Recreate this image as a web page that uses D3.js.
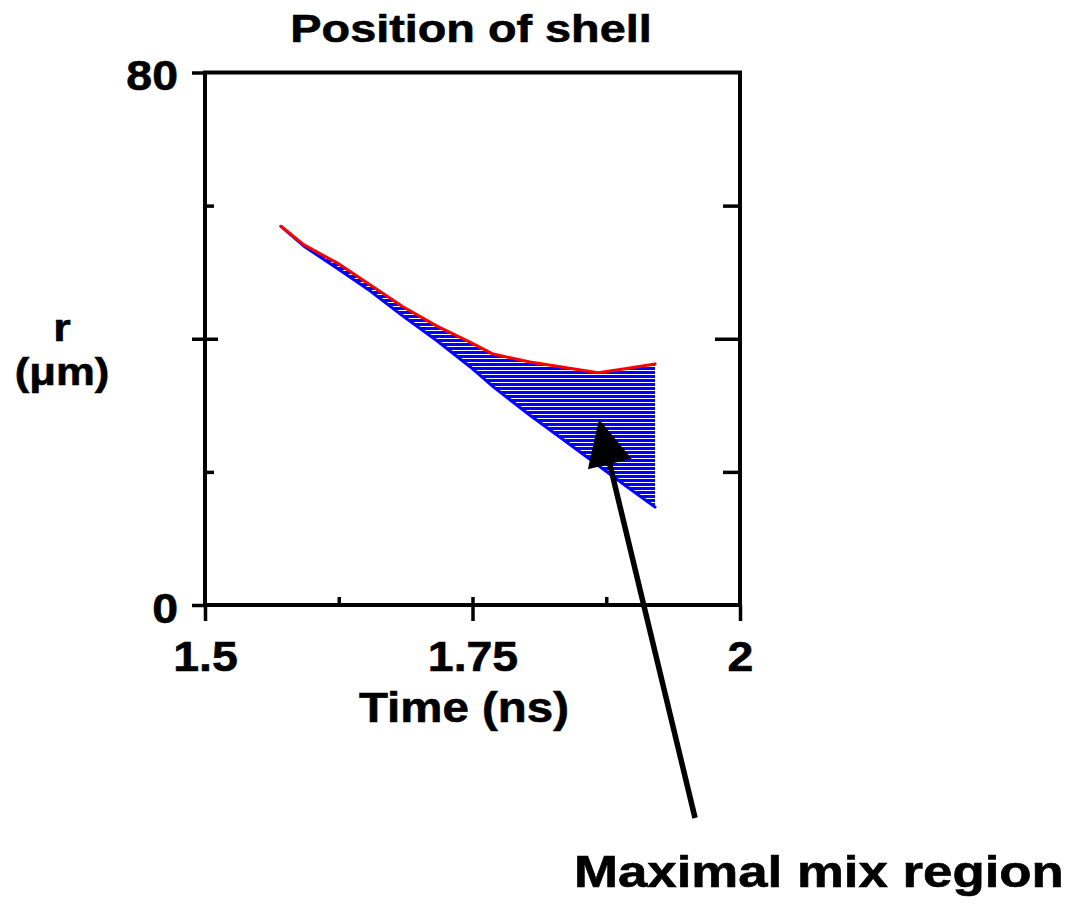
<!DOCTYPE html>
<html>
<head>
<meta charset="utf-8">
<script src="https://cdn.jsdelivr.net/npm/d3@7"></script>
<style>
  html, body { margin: 0; padding: 0; background: #fff; }
  svg { display: block; }
  text { font-family: "Liberation Sans", Arial, sans-serif; font-weight: bold; fill: #000; stroke: #000; stroke-width: 0.6px; }
</style>
</head>
<body>
<svg id="chart" width="1067" height="907"></svg>
<script>
// Shell radius versus time: outer (red) and inner (blue) edge of the shell
const times = [1.571, 1.5925, 1.6234, 1.6542, 1.685, 1.7168, 1.7477, 1.7692, 1.8037, 1.8318, 1.8673, 1.8925, 1.9206];
const outerR = [56.9, 54.1, 51.4, 48.1, 44.8, 41.9, 39.5, 37.7, 36.5, 35.8, 34.9, 35.5, 36.2];
const innerR = [56.9, 53.9, 50.6, 47.2, 43.4, 39.7, 35.8, 32.8, 28.5, 25.2, 21.0, 18.0, 14.7];

const xTicksMajor = [1.5, 1.75, 2];
const xTickLabels = ["1.5", "1.75", "2"];
const xTicksMinor = [1.625, 1.875];
const yTicksLabelled = [0, 80];
const yTickLabels = ["0", "80"];
const yTicksMid = [40];
const yTicksMinor = [20, 60];

// Annotation arrow (data units): tip inside the mixed region, tail near the caption
const arrowTip = [1.8682, 27.9];
const arrowTail = [1.958, -32.0];

const titleText = "Position of shell";
const xTitle = "Time (ns)";
const yTitle = ["r", "(μm)"];
const caption = "Maximal mix region";

const svg = d3.select("#chart");

const x = d3.scaleLinear().domain([1.5, 2]).range([205, 740]);
const y = d3.scaleLinear().domain([0, 80]).range([605, 72.5]);

// text drawn horizontally widened by factor sx
function label(g, tx, ty, str, size, anchor, sx) {
  return g.append("text")
    .attr("transform", `translate(${tx},${ty}) scale(${sx},1)`)
    .attr("text-anchor", anchor)
    .style("font-size", size + "px")
    .text(str);
}

// hatch pattern: blue with thin white horizontal lines
const defs = svg.append("defs");
const pat = defs.append("pattern")
  .attr("id", "hatch").attr("patternUnits", "userSpaceOnUse")
  .attr("width", 8).attr("height", 4);
pat.append("rect").attr("width", 8).attr("height", 4).attr("fill", "#0000ff");
pat.append("rect").attr("y", 2).attr("width", 8).attr("height", 1).attr("fill", "#ffffff");

const rows = times.map((t, i) => ({ t, o: outerR[i], n: innerR[i] }));

// mixed region between the two edges
svg.append("path")
  .datum(rows)
  .attr("fill", "url(#hatch)")
  .attr("d", d3.area().x(d => x(d.t)).y0(d => y(d.n)).y1(d => y(d.o)));

svg.append("path")
  .datum(rows)
  .attr("fill", "none").attr("stroke", "#0000ff").attr("stroke-width", 3)
  .attr("stroke-linejoin", "round").attr("stroke-linecap", "round")
  .attr("d", d3.line().x(d => x(d.t)).y(d => y(d.n)));

svg.append("path")
  .datum(rows)
  .attr("fill", "none").attr("stroke", "#ff0000").attr("stroke-width", 3)
  .attr("stroke-linejoin", "round").attr("stroke-linecap", "round")
  .attr("d", d3.line().x(d => x(d.t)).y(d => y(d.o)));

// frame
svg.append("rect")
  .attr("x", x(1.5)).attr("y", y(80))
  .attr("width", x(2) - x(1.5)).attr("height", y(0) - y(80))
  .attr("fill", "none").attr("stroke", "#000").attr("stroke-width", 4);

// axes and ticks
function styleAxis(g) {
  g.select(".domain").remove();
  g.selectAll(".tick line").attr("stroke", "#000").attr("stroke-width", 3.5);
}

// left: outward ticks with labels
const leftOut = svg.append("g").attr("transform", `translate(${x(1.5)},0)`)
  .call(d3.axisLeft(y).tickValues(yTicksLabelled.concat(yTicksMid)).tickSize(13)
    .tickFormat(v => { const k = yTicksLabelled.indexOf(v); return k >= 0 ? yTickLabels[k] : ""; }));
styleAxis(leftOut);
leftOut.selectAll(".tick text")
  .attr("x", null).attr("dy", null)
  .attr("transform", "translate(-27,17) scale(1.08,1)")
  .attr("text-anchor", "end")
  .style("font-size", "43px").style("font-family", null);

// left: inward ticks
const leftIn = svg.append("g").attr("transform", `translate(${x(1.5)},0)`)
  .call(d3.axisRight(y).tickValues(yTicksMinor).tickSize(9).tickFormat(""));
styleAxis(leftIn);
const leftInMid = svg.append("g").attr("transform", `translate(${x(1.5)},0)`)
  .call(d3.axisRight(y).tickValues(yTicksMid).tickSize(13).tickFormat(""));
styleAxis(leftInMid);

// right: inward ticks
const rightMinor = svg.append("g").attr("transform", `translate(${x(2)},0)`)
  .call(d3.axisLeft(y).tickValues(yTicksMinor).tickSize(17).tickFormat(""));
styleAxis(rightMinor);
const rightMid = svg.append("g").attr("transform", `translate(${x(2)},0)`)
  .call(d3.axisLeft(y).tickValues(yTicksMid).tickSize(25).tickFormat(""));
styleAxis(rightMid);

// bottom: major ticks cross the axis, minor ticks point up
const bottomOut = svg.append("g").attr("transform", `translate(0,${y(0)})`)
  .call(d3.axisBottom(x).tickValues(xTicksMajor).tickSize(16)
    .tickFormat(v => xTickLabels[xTicksMajor.indexOf(v)]));
styleAxis(bottomOut);
bottomOut.selectAll(".tick text")
  .attr("y", null).attr("dy", null)
  .attr("transform", "translate(0,66) scale(1.08,1)")
  .attr("text-anchor", "middle")
  .style("font-size", "43px").style("font-family", null);
const bottomUp = svg.append("g").attr("transform", `translate(0,${y(0)})`)
  .call(d3.axisTop(x).tickValues(xTicksMinor.concat([1.75])).tickSize(8).tickFormat(""));
styleAxis(bottomUp);

// titles
label(svg, 471, 42, titleText, 39, "middle", 1.2);
label(svg, 464, 722, xTitle, 42, "middle", 1.13);
label(svg, 62, 341, yTitle[0], 39, "middle", 1.15);
label(svg, 62, 385, yTitle[1], 39, "middle", 1.12);
label(svg, 574, 887, caption, 44, "start", 1.2);

// arrow
const tip = [x(arrowTip[0]), y(arrowTip[1])];
const tail = [x(arrowTail[0]), y(arrowTail[1])];
const dx = tip[0] - tail[0], dy = tip[1] - tail[1];
const len = Math.hypot(dx, dy);
const ux = dx / len, uy = dy / len;
const headLen = 46, headHalf = 22.5;
const base = [tip[0] - ux * headLen, tip[1] - uy * headLen];
svg.append("line")
  .attr("x1", tail[0]).attr("y1", tail[1])
  .attr("x2", base[0] + ux * 4).attr("y2", base[1] + uy * 4)
  .attr("stroke", "#000").attr("stroke-width", 5.5);
svg.append("path")
  .attr("fill", "#000")
  .attr("d", d3.line()([
    tip,
    [base[0] - uy * headHalf, base[1] + ux * headHalf],
    [base[0] + uy * headHalf, base[1] - ux * headHalf]
  ]) + "Z");
</script>
</body>
</html>
